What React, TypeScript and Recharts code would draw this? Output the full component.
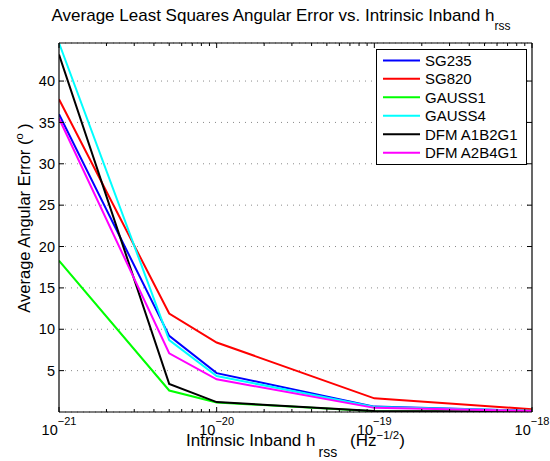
import React from 'react';
import { LineChart, Line, XAxis, YAxis, CartesianGrid, Legend, Customized } from 'recharts';

const FONT = 'Liberation Sans, Arial, Helvetica, sans-serif';

// x positions (Hz^-1/2)
const xValues = [1e-21, 5e-21, 1e-20, 1e-19, 1e-18];

// series values (degrees)
const sg235 = [36.0, 9.2, 4.7, 0.65, 0.15];
const sg820 = [37.8, 11.9, 8.4, 1.65, 0.33];
const gauss1 = [18.3, 2.6, 1.15, 0.1, 0.05];
const gauss4 = [44.6, 8.7, 4.35, 0.6, 0.15];
const dfmA1B2G1 = [43.2, 3.4, 1.2, 0.12, 0.05];
const dfmA2B4G1 = [35.5, 7.1, 3.95, 0.5, 0.12];

const seriesNames = ['SG235', 'SG820', 'GAUSS1', 'GAUSS4', 'DFM A1B2G1', 'DFM A2B4G1'];
const seriesKeys = ['sg235', 'sg820', 'gauss1', 'gauss4', 'dfmA1B2G1', 'dfmA2B4G1'];
const seriesValues = [sg235, sg820, gauss1, gauss4, dfmA1B2G1, dfmA2B4G1];
const seriesColors = ['#0000ff', '#ff0000', '#00ff00', '#00ffff', '#000000', '#ff00ff'];

// axes
const xDomain = [1e-21, 1e-18];
const xMajorTicks = [1e-21, 1e-20, 1e-19, 1e-18];
const yDomain = [0, 44.6];
const yTicks = [5, 10, 15, 20, 25, 30, 35, 40];

const xAllTicks: number[] = [];
xMajorTicks.forEach((d, i) => {
  xAllTicks.push(d);
  if (i < xMajorTicks.length - 1) {
    for (let m = 2; m <= 9; m++) xAllTicks.push(d * m);
  }
});

const data = xValues.map((x, i) => {
  const row: any = { x };
  seriesKeys.forEach((k, j) => {
    row[k] = seriesValues[j][i];
  });
  return row;
});

const isMajor = (v: number) => {
  const e = Math.log10(v);
  return Math.abs(e - Math.round(e)) < 1e-6;
};

const BottomTick = (props: any) => {
  const { x, y, payload } = props;
  const v = payload.value;
  const major = isMajor(v);
  const e = Math.round(Math.log10(v));
  return (
    <g>
      <line x1={x} x2={x} y1={y} y2={y - (major ? 5 : 3)} stroke="#000" strokeWidth={1} />
      {major && (
        <text x={x} y={y + 23} textAnchor="middle" fontSize={14.5} fontFamily={FONT} fill="#000">
          10
          <tspan dy={-10} fontSize={11}>{`\u2212${-e}`}</tspan>
        </text>
      )}
    </g>
  );
};

const TopTick = (props: any) => {
  const { x, y, payload } = props;
  const major = isMajor(payload.value);
  return <line x1={x} x2={x} y1={y} y2={y + (major ? 5 : 3)} stroke="#000" strokeWidth={1} />;
};

const LeftTick = (props: any) => {
  const { x, y, payload } = props;
  return (
    <g>
      <line x1={x} x2={x + 5} y1={y} y2={y} stroke="#000" strokeWidth={1} />
      <text x={x - 4} y={y} dy="0.36em" textAnchor="end" fontSize={14.5} fontFamily={FONT} fill="#000">
        {payload.value}
      </text>
    </g>
  );
};

const RightTick = (props: any) => {
  const { x, y } = props;
  return <line x1={x} x2={x - 5} y1={y} y2={y} stroke="#000" strokeWidth={1} />;
};

const LegendBox = () => {
  const w = 151;
  const h = 116;
  return (
    <svg width={w} height={h} style={{ display: 'block' }}>
      <rect x={0.5} y={0.5} width={w - 1} height={h - 1} fill="#fff" stroke="#000" strokeWidth={1} />
      {seriesNames.map((n, i) => {
        const cy = 11.4 + i * 18.46;
        return (
          <g key={n}>
            <line x1={7} x2={44} y1={cy} y2={cy} stroke={seriesColors[i]} strokeWidth={2} />
            <text x={49} y={cy} dy="0.36em" fontSize={15} fontFamily={FONT} fill="#000">
              {n}
            </text>
          </g>
        );
      })}
    </svg>
  );
};

const Texts = () => (
  <g fontFamily={FONT} fill="#000">
    <text x={281} y={21} textAnchor="middle" fontSize={17}>
      Average Least Squares Angular Error vs. Intrinsic Inband h
      <tspan dy={9} fontSize={12}>rss</tspan>
    </text>
    <text x={186} y={446} textAnchor="start" fontSize={17}>
      Intrinsic Inband h
      <tspan dx={3} dy={11} fontSize={14}>rss</tspan>
    </text>
    <text x={350} y={446} textAnchor="start" fontSize={17}>
      (Hz
      <tspan dy={-7} fontSize={11.5}>{'\u22121/2'}</tspan>
      <tspan dy={7}>)</tspan>
    </text>
    <text x={30} y={218} textAnchor="middle" fontSize={16.5} transform="rotate(-90, 30, 218)">
      Average Angular Error (
      <tspan dy={-7} fontSize={11}>o</tspan>
      <tspan dy={7}> )</tspan>
    </text>
  </g>
);

export default function App() {
  return (
    <div style={{ position: 'fixed', left: 0, top: 0, background: '#fff' }}>
      <LineChart
        width={550}
        height={461}
        data={data}
        margin={{ top: 42, right: 17, bottom: 48, left: 58 }}
        style={{ background: '#fff' }}
      >
        <CartesianGrid
          horizontal={true}
          vertical={false}
          stroke="#8a8a8a"
          strokeDasharray="1 5"
        />
        <XAxis
          dataKey="x"
          type="number"
          scale="log"
          domain={xDomain}
          allowDataOverflow
          ticks={xAllTicks}
          interval={0}
          height={1}
          tickSize={0}
          tickMargin={0}
          tickLine={false}
          tick={<BottomTick />}
          axisLine={{ stroke: '#000', strokeWidth: 1.2 }}
        />
        <XAxis
          xAxisId="top"
          orientation="top"
          dataKey="x"
          type="number"
          scale="log"
          domain={xDomain}
          allowDataOverflow
          ticks={xAllTicks}
          interval={0}
          height={1}
          tickSize={0}
          tickMargin={0}
          tickLine={false}
          tick={<TopTick />}
          axisLine={{ stroke: '#000', strokeWidth: 1.2 }}
        />
        <YAxis
          type="number"
          domain={yDomain}
          allowDataOverflow
          ticks={yTicks}
          interval={0}
          width={1}
          tickSize={0}
          tickMargin={0}
          tickLine={false}
          tick={<LeftTick />}
          axisLine={{ stroke: '#000', strokeWidth: 1.2 }}
        />
        <YAxis
          yAxisId="right"
          orientation="right"
          type="number"
          domain={yDomain}
          allowDataOverflow
          ticks={yTicks}
          interval={0}
          width={1}
          tickSize={0}
          tickMargin={0}
          tickLine={false}
          tick={<RightTick />}
          axisLine={{ stroke: '#000', strokeWidth: 1.2 }}
        />
        {seriesKeys.map((k, i) => (
          <Line
            key={k}
            dataKey={k}
            name={seriesNames[i]}
            type="linear"
            stroke={seriesColors[i]}
            strokeWidth={2}
            dot={false}
            activeDot={false}
            isAnimationActive={false}
          />
        ))}
        <Legend
          layout="horizontal"
          verticalAlign="middle"
          align="center"
          wrapperStyle={{ left: 376, top: 49, width: 151, height: 116 }}
          content={() => <LegendBox />}
        />
        <Customized component={Texts} />
      </LineChart>
    </div>
  );
}
